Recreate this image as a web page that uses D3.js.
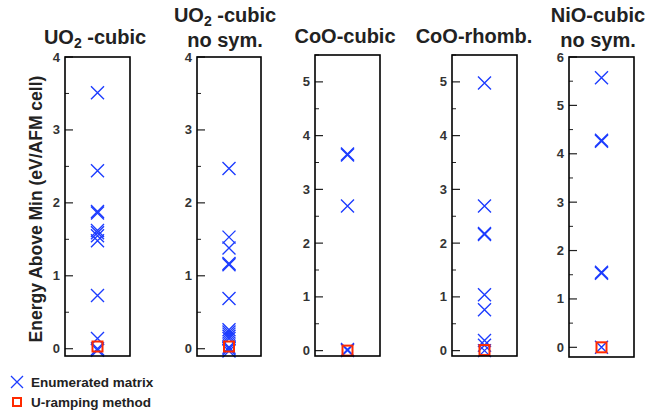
<!DOCTYPE html>
<html><head><meta charset="utf-8">
<script src="https://cdn.jsdelivr.net/npm/d3@7"></script>
<style>body{margin:0;background:#fff}svg{display:block;font-family:"Liberation Sans",Arial,Helvetica,sans-serif}</style>
</head><body><svg id="c" width="648" height="414"></svg>
<script>
const panelNames = ["UO2-cubic", "UO2-cubic no sym.", "CoO-cubic", "CoO-rhomb.", "NiO-cubic no sym."];
const yDomains = [[-0.1, 4], [-0.1, 4], [-0.1, 5.5], [-0.1, 5.5], [-0.2, 6]];
const majorTicks = [[0,1,2,3,4],[0,1,2,3,4],[0,1,2,3,4,5],[0,1,2,3,4,5],[0,1,2,3,4,5,6]];
const enumerated = [
  [3.51, 2.44, 1.88, 1.86, 1.62, 1.59, 1.55, 1.48, 0.73, 0.14, 0.0, -0.02],
  [2.47, 1.53, 1.38, 1.17, 1.15, 0.69, 0.26, 0.23, 0.2, 0.17, 0.14, 0.02, 0.0, -0.03],
  [3.66, 3.64, 2.69, 0.02, 0.0],
  [4.98, 2.69, 2.18, 2.16, 1.04, 0.76, 0.19, 0.1, 0.0],
  [5.57, 4.28, 4.26, 1.55, 1.53, 0.0]
];
const uRamping = [[0.03], [0.03], [0.0], [0.01], [0.0]];

const svg = d3.select("#c");
const blue = "#1c3cff", red = "#ff2a00", dark = "#222";
const boxes = [
  {x0: 65, x1: 130, top: 57, bot: 356},
  {x0: 197, x1: 261, top: 57, bot: 356},
  {x0: 315, x1: 380, top: 55, bot: 356},
  {x0: 452, x1: 517, top: 55, bot: 356},
  {x0: 569, x1: 634, top: 57, bot: 357}
];
const titlePos = [
  {cx: 95, lines: [44]},
  {cx: 225, lines: [22, 47]},
  {cx: 345, lines: [43]},
  {cx: 474, lines: [43]},
  {cx: 598, lines: [22, 47]}
];

function xMark(g, x, y, h, sw) {
  g.append("path").attr("d", `M${x-h},${y-h}L${x+h},${y+h}M${x-h},${y+h}L${x+h},${y-h}`)
    .attr("stroke", blue).attr("stroke-width", sw).attr("fill", "none");
}
function titleLine(t, text) {
  if (text.startsWith("UO2")) {
    t.append("tspan").text("UO");
    t.append("tspan").text("2").attr("font-size", 14).attr("dy", 4);
    t.append("tspan").text(" -" + text.slice(4)).attr("dy", -4);
  } else t.text(text);
}

panelNames.forEach((name, i) => {
  const b = boxes[i];
  const y = d3.scaleLinear().domain(yDomains[i]).range([b.bot, b.top]);
  const cx = (b.x0 + b.x1) / 2;
  const g = svg.append("g");
  const minors = [];
  for (let v = Math.ceil(yDomains[i][0]*2)/2; v <= yDomains[i][1]; v += 0.5) if (v % 1 !== 0) minors.push(v);
  g.selectAll(".mn").data(minors).join("line")
    .attr("x1", b.x0).attr("x2", b.x0 + 4).attr("y1", d => y(d)).attr("y2", d => y(d))
    .attr("stroke", dark).attr("stroke-width", 1);
  g.selectAll(".mj").data(majorTicks[i]).join("line")
    .attr("x1", b.x0).attr("x2", b.x0 + 8).attr("y1", d => y(d)).attr("y2", d => y(d))
    .attr("stroke", dark).attr("stroke-width", 1.2);
  g.selectAll(".tl").data(majorTicks[i]).join("text")
    .attr("x", b.x0 - 5).attr("y", d => y(d) + 4.5).attr("text-anchor", "end")
    .attr("font-size", 13).attr("font-weight", "bold").attr("fill", "#333").text(d => d);
  enumerated[i].forEach(v => xMark(g, cx, y(v), 6.5, 1.4));
  uRamping[i].forEach(v => g.append("rect").attr("x", cx - 5).attr("y", y(v) - 5)
    .attr("width", 10).attr("height", 10).attr("fill", "none").attr("stroke", red).attr("stroke-width", 2));
  g.append("rect").attr("x", b.x0).attr("y", b.top).attr("width", b.x1 - b.x0).attr("height", b.bot - b.top)
    .attr("fill", "none").attr("stroke", "#000").attr("stroke-width", 1.6);
  const tp = titlePos[i];
  let lines = name.includes(" no sym.") ? [name.replace(" no sym.", ""), "no sym."] : [name];
  lines.forEach((ln, k) => {
    const t = svg.append("text").attr("x", tp.cx).attr("y", tp.lines[k]).attr("text-anchor", "middle")
      .attr("font-size", 20).attr("font-weight", "bold").attr("fill", dark);
    titleLine(t, ln);
  });
});

svg.append("text").attr("transform", "translate(42,209) rotate(-90)").attr("text-anchor", "middle")
  .attr("font-size", 17.5).attr("font-weight", "bold").attr("fill", dark)
  .text("Energy Above Min (eV/AFM cell)");

const lg = svg.append("g");
xMark(lg, 17, 382, 6, 1.3);
lg.append("text").attr("x", 31).attr("y", 387).attr("font-size", 13.5).attr("font-weight", "bold").attr("fill", dark).text("Enumerated matrix");
lg.append("rect").attr("x", 13).attr("y", 398).attr("width", 8).attr("height", 8).attr("fill", "none").attr("stroke", red).attr("stroke-width", 2);
lg.append("text").attr("x", 31).attr("y", 407).attr("font-size", 13.5).attr("font-weight", "bold").attr("fill", dark).text("U-ramping method");
</script></body></html>
